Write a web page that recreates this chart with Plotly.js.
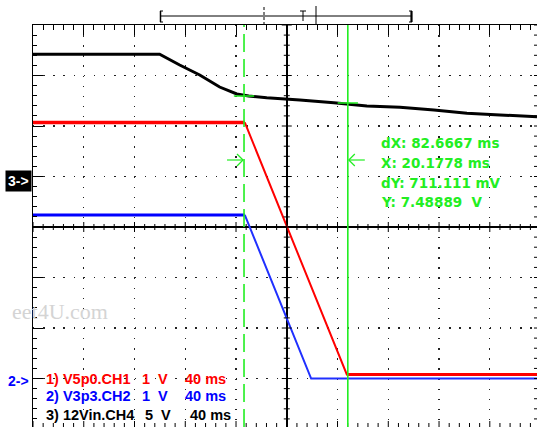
<!DOCTYPE html>
<html>
<head>
<meta charset="utf-8">
<script src="https://cdn.plot.ly/plotly-3.0.1.min.js"></script>
<style>html,body{margin:0;padding:0;background:#fff;}#plot{width:537px;height:427px;}</style>
</head>
<body>
<div id="plot"></div>
<script>
// ---- data (time in ms relative to screen centre, voltages in V) ----
const ch4Time = [-200, -100.2, -84.4, -68.6, -52.9, -39.4, -30, -15.8, 10.3, 37.1, 63.1, 89.2, 116, 142, 168, 197.2];
const ch4Volt = [12.1, 12.1, 11.04, 10.05, 8.86, 8.17, 7.97, 7.80, 7.57, 7.31, 6.98, 6.85, 6.58, 6.26, 6.09, 5.92];
const ch1Time = [-200, -33.1, 47.3, 197.2];
const ch1Volt = [5.07, 5.07, 0.08, 0.08];
const ch2Time = [-200, -33.1, 19.2, 197.2];
const ch2Volt = [3.24, 3.24, 0.0, 0.0];
const cursorTimes = [-33.7, 48.1];
const cursorLevels = [7.97, 7.28];
const readout = ["dX: 82.6667 ms", "X: 20.1778 ms", "dY: 711.111 mV", "Y: 7.48889  V"];
const chanNames = ["1) V5p0.CH1", "2) V3p3.CH2", "3) 12Vin.CH4"];
const chanScales = ["1  V", "1  V", "5  V"];
const chanTimebase = ["40 ms", "40 ms", "40 ms"];
const chanColors = ["#ff0000", "#0000ff", "#000000"];

// ---- geometry helpers ----
const W = 537, H = 427, L = 33, T = 25;
const XR = [-200, 197.2];          // ms
const YR = [-3.96, 4];             // divisions
const pw = W - L, ph = H - T;
const px = x => (x - L) / pw;      // pixel -> paper
const py = y => (H - y) / ph;
const xpx = t => L + (t - XR[0]) * pw / (XR[1] - XR[0]);
const msPerPx = (XR[1] - XR[0]) / pw;
const divPerPx = (YR[1] - YR[0]) / ph;
const GREEN = "#22ee22";

const traces = [
  {x: ch4Time, y: ch4Volt, yaxis: "y3", mode: "lines", line: {color: "#000", width: 3}, hoverinfo: "skip"},
  {x: ch1Time.slice(0, 2), y: ch1Volt.slice(0, 2), yaxis: "y2", mode: "lines", line: {color: "#ff0000", width: 3.5}, hoverinfo: "skip"},
  {x: ch1Time.slice(1), y: ch1Volt.slice(1), yaxis: "y2", mode: "lines", line: {color: "#ff0000", width: 2}, hoverinfo: "skip"},
  {x: ch1Time.slice(2), y: ch1Volt.slice(2), yaxis: "y2", mode: "lines", line: {color: "#ff0000", width: 3}, hoverinfo: "skip"},
  {x: ch2Time.slice(0, 2), y: ch2Volt.slice(0, 2), yaxis: "y2", mode: "lines", line: {color: "#0000ff", width: 3}, hoverinfo: "skip"},
  {x: ch2Time.slice(1), y: ch2Volt.slice(1), yaxis: "y2", mode: "lines", line: {color: "#2030ff", width: 2}, hoverinfo: "skip"}
];

const shapes = [];
const seg = (x0, y0, x1, y1, color, width, dash, xref, yref) =>
  shapes.push({type: "line", xref: xref || "x", yref: yref || "y", x0, y0, x1, y1,
               line: {color, width, dash: dash || "solid"}, layer: "above"});

// centre-line and edge ticks
for (let k = -25; k <= 24; k++) {
  const t = k * 8; const len = (k % 5 === 0 ? 5 : 3) * divPerPx;
  seg(t, -len, t, len, "#000", 1);
  seg(t, YR[0], t, YR[0] + (k % 5 === 0 ? 6 : 4) * divPerPx, "#000", 1);
}
for (let j = -19; j <= 20; j++) {
  const d = j * 0.2; const len = (j % 5 === 0 ? 5 : 3) * msPerPx;
  seg(-len, d, len, d, "#000", 1);
  seg(XR[1] - 3 * msPerPx, d, XR[1], d, "#000", 1);
}

// cursors
seg(cursorTimes[0], YR[0], cursorTimes[0], YR[1], GREEN, 1.6, "18px,7px");
seg(cursorTimes[1], YR[0], cursorTimes[1], YR[1], GREEN, 1.6);
cursorTimes.forEach((t, i) => {
  shapes.push({type: "line", xref: "x", yref: "y3", x0: t - 8, x1: t + 8, y0: cursorLevels[i], y1: cursorLevels[i],
               line: {color: GREEN, width: 1.5}, layer: "above"});
});
// cursor arrows
const ay = py(160);
const c0 = xpx(cursorTimes[0]), c1 = xpx(cursorTimes[1]);
seg(px(c0 - 17), ay, px(c0 - 1), ay, GREEN, 1.2, null, "paper", "paper");
seg(px(c0 - 7), py(154), px(c0 - 1), ay, GREEN, 1.2, null, "paper", "paper");
seg(px(c0 - 7), py(166), px(c0 - 1), ay, GREEN, 1.2, null, "paper", "paper");
seg(px(c1 + 1), ay, px(c1 + 17), ay, GREEN, 1.2, null, "paper", "paper");
seg(px(c1 + 7), py(154), px(c1 + 1), ay, GREEN, 1.2, null, "paper", "paper");
seg(px(c1 + 7), py(166), px(c1 + 1), ay, GREEN, 1.2, null, "paper", "paper");

// memory bracket on top
const P = (a, b, c, d, w, dash) => seg(px(a), py(b), px(c), py(d), "#000", w || 1, dash, "paper", "paper");
P(160, 16, 412, 16);
P(160.5, 11, 160.5, 22, 1.5); P(160, 11, 163, 11); P(160, 22, 163, 22);
P(411.5, 11, 411.5, 22, 2.2); P(409, 11, 412, 11); P(409, 22, 412, 22);
P(264, 7, 264, 24, 1, "3px,2px");
P(303, 11, 303, 21); P(300, 11, 306, 11);
P(316, 6, 316, 25);

const annotations = [];
const txt = (x, y, text, color, size, family, opts) => annotations.push(Object.assign({
  xref: "paper", yref: "paper", x: px(x), y: py(y), text, showarrow: false,
  xanchor: "left", yanchor: "middle",
  font: {color, size, family, weight: "bold"}
}, opts || {}));

readout.forEach((s, i) => txt(379, 143 + i * 19.8, s, GREEN, 13.5, "DejaVu Sans"));
const rowsY = [378.5, 396, 414.5];
const scaleX = [140, 140, 143];
const tbX = [183, 183, 188];
chanNames.forEach((s, i) => {
  txt(44, rowsY[i], s, chanColors[i], 14.5, "Liberation Sans");
  txt(scaleX[i], rowsY[i], chanScales[i], chanColors[i], 14.5, "Liberation Sans");
  txt(tbX[i], rowsY[i], chanTimebase[i], chanColors[i], 14.5, "Liberation Sans");
});
txt(18, 181, "3->", "#fff", 14, "Liberation Sans", {xanchor: "center", bgcolor: "#000", borderpad: 2});
txt(18, 381, "2->", "#0000ff", 14, "Liberation Sans", {xanchor: "center"});
annotations.push({xref: "paper", yref: "paper", x: px(110), y: py(311), text: "eet4U.com", showarrow: false,
  xanchor: "right", yanchor: "middle", font: {color: "#d4d4d4", size: 22, family: "Liberation Serif"}});

const layout = {
  width: W, height: H,
  margin: {l: L, r: 0, t: T, b: 0, pad: 0},
  paper_bgcolor: "#fff", plot_bgcolor: "#fff",
  showlegend: false,
  xaxis: {range: XR, side: "top", showline: true, linecolor: "#000", linewidth: 1, mirror: false,
          ticks: "inside", ticklen: 10, tickcolor: "#000", tickwidth: 1, dtick: 40, tick0: 0,
          minor: {dtick: 8, ticks: "inside", ticklen: 5, tickcolor: "#000", showgrid: false},
          showticklabels: false, showgrid: true, gridcolor: "#222", gridwidth: 1.4, griddash: "1.4px,8.7px",
          zeroline: true, zerolinecolor: "#000", zerolinewidth: 1.5, fixedrange: true},
  yaxis: {range: YR, showline: true, linecolor: "#000", linewidth: 1,
          ticks: "inside", ticklen: 10, tickcolor: "#000", dtick: 1, tick0: 0,
          minor: {dtick: 0.2, ticks: "inside", ticklen: 4, tickcolor: "#000", showgrid: false},
          showticklabels: false, showgrid: true, gridcolor: "#222", gridwidth: 1.4, griddash: "1.4px,8.75px",
          zeroline: true, zerolinecolor: "#000", zerolinewidth: 1.5, fixedrange: true},
  yaxis2: {overlaying: "y", range: [YR[0] + 3, YR[1] + 3], visible: false, fixedrange: true},
  yaxis3: {overlaying: "y", range: [(YR[0] - 1) * 5, (YR[1] - 1) * 5], visible: false, fixedrange: true},
  shapes, annotations
};

Plotly.newPlot("plot", traces, layout, {displayModeBar: false, staticPlot: true});
</script>
</body>
</html>
